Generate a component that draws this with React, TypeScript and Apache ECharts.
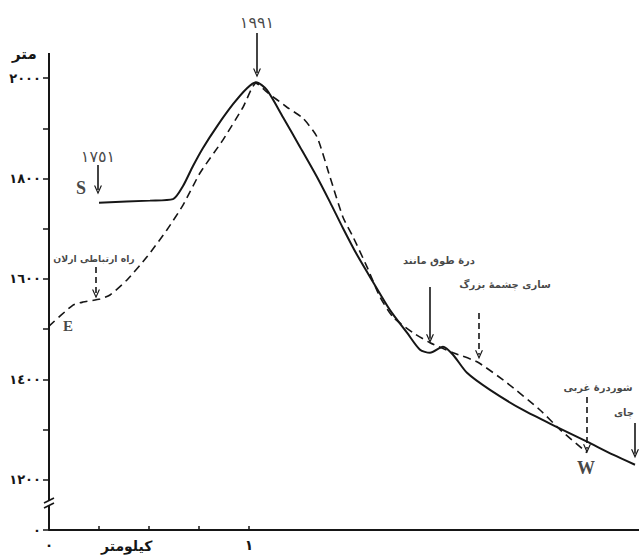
import React, { useEffect, useRef } from 'react';
import * as echarts from 'echarts';

// Solid profile (km, m)
const mainKm = [0.25, 0.505, 0.62, 0.67, 0.72, 0.77, 0.84, 0.92, 0.99, 1.035, 1.09, 1.17, 1.255, 1.34, 1.405, 1.47, 1.54, 1.62, 1.705, 1.79, 1.855, 1.905, 1.97, 2.02, 2.09, 2.205, 2.37, 2.54, 2.69, 2.82, 2.93];
const mainElev = [1752, 1756, 1759, 1785, 1825, 1861, 1904, 1948, 1980, 1992, 1976, 1922, 1863, 1803, 1753, 1701, 1648, 1594, 1538, 1493, 1459, 1453, 1465, 1449, 1413, 1379, 1339, 1305, 1276, 1250, 1230];
// Dashed profile (km, m)
const altKm = [0, 0.12, 0.17, 0.255, 0.305, 0.39, 0.49, 0.59, 0.67, 0.755, 0.87, 0.97, 1.035, 1.09, 1.19, 1.27, 1.34, 1.405, 1.47, 1.52, 1.59, 1.655, 1.72, 1.82, 1.905, 2.02, 2.14, 2.29, 2.455, 2.555, 2.69];
const altElev = [1506, 1548, 1554, 1560, 1568, 1598, 1644, 1698, 1747, 1811, 1877, 1942, 1990, 1972, 1942, 1920, 1883, 1803, 1723, 1684, 1624, 1564, 1524, 1493, 1473, 1453, 1435, 1393, 1339, 1300, 1254];

// Axis ticks / labels
const yAxisTop = 2050;
const yTicks = [1100, 1200, 1300, 1400, 1500, 1600, 1700, 1800, 1900, 2000];
const yLabels = [1100, 1200, 1400, 1600, 1800, 2000];
const xTicks = [0, 0.25, 0.5, 0.75, 1];
const xLabels = [0, 1];

// Annotations
const noteText = ['١٩٩١', '١٧٥١', 'S', 'E', 'W', 'راه ارتباطی ارلان', 'درهٔ طوق مانند', 'ساری چشمهٔ بزرگ', 'شوردرهٔ غربی', 'چای'];
const noteKind = ['num', 'num', 'letter', 'letterSmall', 'letter', 'faSmall', 'fa', 'fa', 'fa', 'fa'];
const noteKm = [1.04, 0.245, 0.16, 0.095, 2.685, 0.225, 1.95, 2.28, 2.745, 2.875];
const noteElev = [2111, 1843, 1781, 1506, 1224, 1640, 1636, 1588, 1383, 1335];

const arrowKm = [1.04, 0.245, 0.235, 1.905, 2.15, 2.69, 2.93];
const arrowFrom = [2090, 1827, 1624, 1584, 1532, 1365, 1313];
const arrowTo = [2002, 1769, 1562, 1473, 1441, 1254, 1244];
const arrowDashed = [false, false, true, false, true, true, false];

const INK = '#161616';
const FA = '"DejaVu Sans", "Noto Sans", sans-serif';
const toFa = (v: number) => String(v).replace(/\d/g, (d) => '٠١٢٣٤٥٦٧٨٩'[+d]);

const kindStyle: Record<string, any> = {
  num: { fontFamily: FA, fontSize: 16, fontWeight: 'normal' },
  letter: { fontFamily: '"Liberation Serif", "DejaVu Serif", serif', fontSize: 18, fontWeight: 'bold' },
  letterSmall: { fontFamily: '"Liberation Serif", "DejaVu Serif", serif', fontSize: 15, fontWeight: 'bold' },
  fa: { fontFamily: FA, fontSize: 10, fontWeight: 'bold' },
  faSmall: { fontFamily: FA, fontSize: 9.3, fontWeight: 'bold' },
};

const chevron = 'path://M0,10 L5,0 L10,10 L8.4,10 L5,3.2 L1.6,10 Z';

export default function App() {
  const ref = useRef<HTMLDivElement>(null);
  useEffect(() => {
    if (!ref.current) return;
    const chart = echarts.init(ref.current, undefined, { renderer: 'svg' });
    const option: any = {
      animation: false,
      backgroundColor: '#ffffff',
      grid: { left: 49, right: 0, top: 2.8, bottom: 26, containLabel: false },
      xAxis: {
        type: 'value',
        min: 0,
        max: 2.95,
        axisLine: { show: true, lineStyle: { color: INK, width: 2 } },
        axisTick: { show: true, inside: true, length: 4, customValues: xTicks, lineStyle: { color: INK, width: 1.5 } },
        axisLabel: {
          customValues: xLabels,
          formatter: (v: number) => toFa(v),
          color: INK,
          fontFamily: FA,
          fontSize: 14,
          fontWeight: 'bold',
          margin: 8,
        },
        splitLine: { show: false },
      },
      yAxis: {
        type: 'value',
        min: 1100,
        max: 2150,
        axisLine: { show: false },
        axisTick: { show: true, inside: false, length: 6, customValues: yTicks, lineStyle: { color: INK, width: 1.5 } },
        axisLabel: {
          customValues: yLabels,
          formatter: (v: number) => (v === 1100 ? '٠' : toFa(v)),
          color: INK,
          fontFamily: FA,
          fontSize: 13,
          fontWeight: 'bold',
          margin: 8,
        },
        splitLine: { show: false },
      },
      series: [
        {
          type: 'line',
          data: mainKm.map((k, i) => [k, mainElev[i]]),
          showSymbol: false,
          smooth: 0.25,
          lineStyle: { color: INK, width: 2 },
          silent: true,
          markLine: {
            silent: true,
            symbol: ['none', 'none'],
            label: { show: false },
            emphasis: { disabled: true },
            lineStyle: { color: INK, width: 2, type: 'solid' },
            data: [[{ coord: [0, 1100] }, { coord: [0, yAxisTop] }]],
          },
        },
        {
          type: 'line',
          data: altKm.map((k, i) => [k, altElev[i]]),
          showSymbol: false,
          smooth: 0.2,
          lineStyle: { color: INK, width: 1.6, type: [8, 5] },
          silent: true,
        },
        {
          type: 'scatter',
          clip: false,
          silent: true,
          symbolSize: 0,
          data: noteText.map((t, i) => ({
            value: [noteKm[i], noteElev[i]],
            label: {
              show: true,
              position: 'inside',
              formatter: t,
              color: INK,
              ...kindStyle[noteKind[i]],
            },
          })),
          markLine: {
            silent: true,
            symbol: ['none', chevron],
            symbolSize: [8, 9],
            label: { show: false },
            emphasis: { disabled: true },
            data: arrowKm.map((k, i) => [
              {
                coord: [k, arrowFrom[i]],
                lineStyle: { color: INK, width: 1.6, type: arrowDashed[i] ? [6, 4] : 'solid' },
              },
              { coord: [k, arrowTo[i] + 8] },
            ]),
          },
        },
      ],
      graphic: [
        { type: 'text', left: 12, top: 46, style: { text: 'متر', font: 'bold 15px "DejaVu Sans"', fill: INK } },
        { type: 'text', left: 101, top: 539, style: { text: 'کیلومتر', font: 'bold 14px "DejaVu Sans"', fill: INK } },
        { type: 'rect', shape: { x: 45, y: 500, width: 9, height: 5 }, style: { fill: '#fff' }, z: 100 },
        { type: 'line', shape: { x1: 44, y1: 503, x2: 54, y2: 498 }, style: { stroke: INK, lineWidth: 1.6 }, z: 101 },
        { type: 'line', shape: { x1: 44, y1: 508, x2: 54, y2: 503 }, style: { stroke: INK, lineWidth: 1.6 }, z: 101 },
      ],
    };
    chart.setOption(option);
    return () => chart.dispose();
  }, []);
  return <div ref={ref} style={{ position: 'absolute', left: 0, top: 0, width: 639, height: 556 }} />;
}
